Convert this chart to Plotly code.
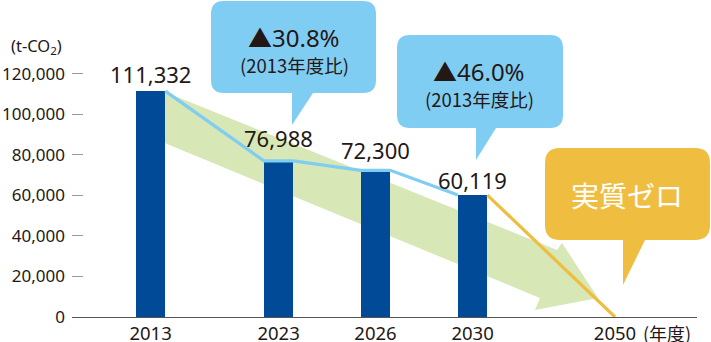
import plotly.graph_objects as go

# ---------------- data ----------------
YEARS = ["2013", "2023", "2026", "2030", "2050"]
EMISSIONS = [111332, 76988, 72300, 60119]      # t-CO2 for 2013..2030
TARGET_2050 = 0
Y_TICKS = [0, 20000, 40000, 60000, 80000, 100000, 120000]
CALLOUT_MAIN = ["▲30.8%", "▲46.0%"]
CALLOUT_SUB = ["(2013年度比)", "(2013年度比)"]
ZERO_TEXT = "実質ゼロ"
UNIT_TEXT = "(t-CO<sub>2</sub>)"
YEAR_UNIT = "(年度)"

# ---------------- layout helpers ----------------
W, H = 711, 342
L, R, T, B = 72, 697, 0, 317          # plot area in pixels
PX_PER_UNIT = 243.4 / 120000          # y pixels per t-CO2
X_SLOTS = [78.6, 206.6, 303.5, 400.6, 543.0]   # x-axis slot positions (px from plot left)
BAR_W = 29.5
LABEL_RAISE = [16, 22, 19, 14]

FONT = "Noto Sans, Noto Sans CJK JP, sans-serif"
CJK = "Noto Sans CJK JP, Noto Sans, sans-serif"
INK = "#231815"
BAR_C = "#004a98"
LINE_BLUE = "#7fcdf3"
CALLOUT_BLUE = "#80cdf3"
ORANGE = "#efbd40"
GREEN = "#d7e7b5"


def pxp(x):
    return (x - L) / (R - L)


def pyp(y):
    return (B - y) / (B - T)


def path_from(cmds):
    out = []
    for c in cmds:
        op = c[0]
        pts = c[1:]
        s = op
        for (x, y) in pts:
            s += f"{pxp(x):.5f},{pyp(y):.5f} "
        out.append(s.strip())
    return " ".join(out) + " Z"


def callout(x0, y0, x1, y1, r, tl, tip, tr):
    cmds = [
        ("M", (x0 + r, y0)),
        ("L", (x1 - r, y0)),
        ("Q", (x1, y0), (x1, y0 + r)),
        ("L", (x1, y1 - r)),
        ("Q", (x1, y1), (x1 - r, y1)),
        ("L", (tr, y1)),
        ("L", tip),
        ("L", (tl, y1)),
        ("L", (x0 + r, y1)),
        ("Q", (x0, y1), (x0, y1 - r)),
        ("L", (x0, y0 + r)),
        ("Q", (x0, y0), (x0 + r, y0)),
    ]
    return path_from(cmds)


fig = go.Figure()

# connecting lines (edge to edge over bar tops)
half = BAR_W / 2
lx, ly = [], []
for i in range(len(EMISSIONS)):
    if i > 0:
        lx.append(X_SLOTS[i] - half)
        ly.append(EMISSIONS[i])
    if i < len(EMISSIONS) - 1:
        lx.append(X_SLOTS[i] + half)
        ly.append(EMISSIONS[i])
fig.add_trace(go.Scatter(x=lx, y=ly, mode="lines",
                         line=dict(color=LINE_BLUE, width=3.2),
                         hoverinfo="skip", showlegend=False))

fig.add_trace(go.Scatter(x=[X_SLOTS[3] + half, X_SLOTS[4]],
                         y=[EMISSIONS[3], TARGET_2050], mode="lines",
                         line=dict(color=ORANGE, width=3.2),
                         hoverinfo="skip", showlegend=False))

fig.add_trace(go.Bar(x=X_SLOTS[:4], y=EMISSIONS, width=BAR_W,
                     marker=dict(color=BAR_C, line=dict(width=0)),
                     hoverinfo="skip", showlegend=False))

# value labels
anns = []
for i, v in enumerate(EMISSIONS):
    anns.append(dict(x=X_SLOTS[i], y=v, yshift=LABEL_RAISE[i] + 1, text=f"{v:,}",
                     showarrow=False, yanchor="middle", xanchor="center",
                     font=dict(family=FONT, size=22, color=INK)))

# ---------------- shapes ----------------
shapes = []
# big green arrow
arrow = [("M", (161, 90.5)), ("L", (557, 250)), ("L", (562, 243)),
         ("L", (598, 298)), ("L", (535, 310)), ("L", (540, 298)),
         ("L", (161, 141.5))]
shapes.append(dict(type="path", path=path_from(arrow), xref="paper", yref="paper",
                   fillcolor=GREEN, line=dict(width=0), layer="below"))

shapes.append(dict(type="path", xref="paper", yref="paper", layer="above",
                   path=callout(211, 1, 376, 93, 13, 292, (292, 125), 313),
                   fillcolor=CALLOUT_BLUE, line=dict(width=0)))
shapes.append(dict(type="path", xref="paper", yref="paper", layer="above",
                   path=callout(397, 35, 563, 128, 13, 476, (476, 160), 496),
                   fillcolor=CALLOUT_BLUE, line=dict(width=0)))
shapes.append(dict(type="path", xref="paper", yref="paper", layer="above",
                   path=callout(545, 148, 710, 240, 15, 623, (623, 285), 645),
                   fillcolor=ORANGE, line=dict(width=0)))

# callout texts
for (cx, cy1, cy2), m, s in zip([(294, 37, 65), (479, 71, 99)], CALLOUT_MAIN, CALLOUT_SUB):
    anns.append(dict(x=pxp(cx), y=pyp(cy1), xref="paper", yref="paper", text=m,
                     showarrow=False, xanchor="center", yanchor="middle",
                     font=dict(family=FONT, size=24, color=INK)))
    anns.append(dict(x=pxp(cx), y=pyp(cy2), xref="paper", yref="paper", text=s,
                     showarrow=False, xanchor="center", yanchor="middle",
                     font=dict(family=CJK, size=18.5, color=INK)))
anns.append(dict(x=pxp(627), y=pyp(195), xref="paper", yref="paper", text=ZERO_TEXT,
                 showarrow=False, xanchor="center", yanchor="middle",
                 font=dict(family=CJK, size=28, color="white")))

anns.append(dict(x=pxp(36), y=pyp(46), xref="paper", yref="paper", text=UNIT_TEXT,
                 showarrow=False, xanchor="center", yanchor="middle",
                 font=dict(family=FONT, size=16.5, color=INK)))
anns.append(dict(x=pxp(667), y=pyp(333), xref="paper", yref="paper", text=YEAR_UNIT,
                 showarrow=False, xanchor="center", yanchor="middle",
                 font=dict(family=CJK, size=18, color=INK)))

fig.update_layout(
    width=W, height=H,
    margin=dict(l=L, r=W - R, t=T, b=H - B, autoexpand=False),
    paper_bgcolor="white", plot_bgcolor="white",
    shapes=shapes, annotations=anns,
    xaxis=dict(range=[0, R - L], tickvals=X_SLOTS, ticktext=YEARS,
               showgrid=False, zeroline=False, showline=True, automargin=False,
               linecolor="#555555", linewidth=1, ticks="",
               tickfont=dict(family=FONT, size=18.5, color=INK)),
    yaxis=dict(range=[0, (B - T) / PX_PER_UNIT], tickvals=Y_TICKS,
               tickformat=",", showgrid=False, zeroline=False, showline=False,
               automargin=False,
               ticks="inside", ticklen=11, tickcolor="#9a9a9a", tickwidth=1,
               ticklabelstandoff=6,
               tickfont=dict(family=FONT, size=17, color=INK)),
    bargap=0,
)

fig.write_html("out.html")
